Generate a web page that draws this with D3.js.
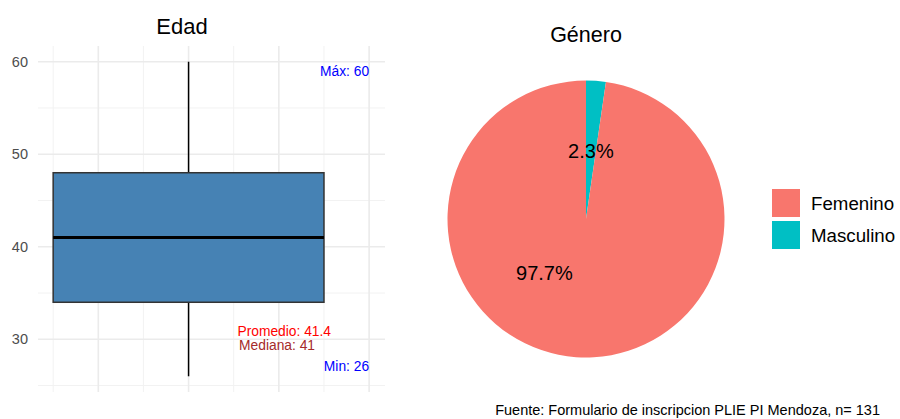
<!DOCTYPE html>
<html>
<head>
<meta charset="utf-8">
<script src="https://cdn.jsdelivr.net/npm/d3@7"></script>
<style>
  body { margin: 0; background: #fff; }
  text { font-family: "Liberation Sans", Arial, sans-serif; }
</style>
</head>
<body>
<div id="chart"></div>
<script>
// edad (boxplot)
var edadStats = { min: 26, q1: 34, mediana: 41, q3: 48, max: 60, promedio: 41.4 };
var yTicks = [30, 40, 50, 60];
var yMinor = [25, 35, 45, 55];
var xMajor = [-0.25, 0, 0.25, 0.5];
var xMinor = [-0.375, -0.125, 0.125, 0.375];

// genero (pie)
var generos = ['Femenino', 'Masculino'];
var porcentajes = [97.7, 2.3];
var colores = ['#F8766D', '#00BFC4'];
// where ggplot placed each label, as a fraction of the turn
var labelTurn = [0.605, 0.0115];

var W = 900, H = 419;

var svg = d3.select('#chart').append('svg')
    .attr('width', W)
    .attr('height', H);

//---------------- boxplot ----------------
var panel = { left: 38, right: 385, top: 46, bottom: 392 };

var y = d3.scaleLinear()
    .domain([24.3, 61.7])
    .range([panel.bottom, panel.top]);

var x = d3.scaleLinear()
    .domain([-0.417, 0.544])
    .range([panel.left, panel.right]);

var box = svg.append('g');

// minor grid
box.selectAll('.ymin')
    .data(yMinor)
    .join('line')
    .attr('x1', panel.left).attr('x2', panel.right)
    .attr('y1', function (d) { return y(d); })
    .attr('y2', function (d) { return y(d); })
    .style('stroke', '#f2f2f2')
    .style('stroke-width', 1);

box.selectAll('.xmin')
    .data(xMinor)
    .join('line')
    .attr('y1', panel.top).attr('y2', panel.bottom)
    .attr('x1', function (d) { return x(d); })
    .attr('x2', function (d) { return x(d); })
    .style('stroke', '#f2f2f2')
    .style('stroke-width', 1);

// major grid
box.selectAll('.ymaj')
    .data(yTicks)
    .join('line')
    .attr('x1', panel.left).attr('x2', panel.right)
    .attr('y1', function (d) { return y(d); })
    .attr('y2', function (d) { return y(d); })
    .style('stroke', '#ebebeb')
    .style('stroke-width', 1.6);

box.selectAll('.xmaj')
    .data(xMajor)
    .join('line')
    .attr('y1', panel.top).attr('y2', panel.bottom)
    .attr('x1', function (d) { return x(d); })
    .attr('x2', function (d) { return x(d); })
    .style('stroke', '#ebebeb')
    .style('stroke-width', 1.6);

// y axis labels
var yAxis = d3.axisLeft(y)
    .tickValues(yTicks)
    .tickSize(0)
    .tickPadding(10);

var ya = box.append('g')
    .attr('transform', 'translate(' + panel.left + ',0)')
    .call(yAxis);
ya.select('.domain').remove();
ya.selectAll('text')
    .style('font-size', '14.5px')
    .style('fill', '#4d4d4d')
    .style('font-family', '"Liberation Sans", Arial, sans-serif');

// whiskers
box.append('line')
    .attr('x1', x(0)).attr('x2', x(0))
    .attr('y1', y(edadStats.max)).attr('y2', y(edadStats.q3))
    .style('stroke', '#000').style('stroke-width', 1.5);
box.append('line')
    .attr('x1', x(0)).attr('x2', x(0))
    .attr('y1', y(edadStats.q1)).attr('y2', y(edadStats.min))
    .style('stroke', '#000').style('stroke-width', 1.5);

// box
box.append('rect')
    .attr('x', x(-0.375))
    .attr('width', x(0.375) - x(-0.375))
    .attr('y', y(edadStats.q3))
    .attr('height', y(edadStats.q1) - y(edadStats.q3))
    .style('fill', '#4682B4')
    .style('stroke', '#333333')
    .style('stroke-width', 1.5);

// median
box.append('line')
    .attr('x1', x(-0.375)).attr('x2', x(0.375))
    .attr('y1', y(edadStats.mediana)).attr('y2', y(edadStats.mediana))
    .style('stroke', '#000').style('stroke-width', 3.2);

// annotations
box.append('text')
    .attr('x', x(0.5)).attr('y', y(edadStats.max))
    .attr('dy', '1.0em')
    .attr('text-anchor', 'end')
    .style('font-size', '13.8px').style('fill', '#0000FF')
    .text('Máx: ' + edadStats.max);

box.append('text')
    .attr('x', x(0.5)).attr('y', y(edadStats.min))
    .attr('dy', '-0.35em')
    .attr('text-anchor', 'end')
    .style('font-size', '13.8px').style('fill', '#0000FF')
    .text('Min: ' + edadStats.min);

box.append('text')
    .attr('x', x(0.265)).attr('y', y(30.9))
    .attr('dy', '0.35em')
    .attr('text-anchor', 'middle')
    .style('font-size', '13.8px').style('fill', '#FF0000')
    .text('Promedio: ' + edadStats.promedio);

box.append('text')
    .attr('x', x(0.245)).attr('y', y(29.4))
    .attr('dy', '0.35em')
    .attr('text-anchor', 'middle')
    .style('font-size', '13.8px').style('fill', '#A52A2A')
    .text('Mediana: ' + edadStats.mediana);

box.append('text')
    .attr('x', 182).attr('y', 34)
    .attr('text-anchor', 'middle')
    .style('font-size', '22px').style('fill', '#000')
    .text('Edad');

//---------------- pie ----------------
var cx = 586, cy = 219, r = 138.5;

var pieData = generos.map(function (g, i) {
    return { genero: g, valor: porcentajes[i], color: colores[i], turn: labelTurn[i] };
});

// ggplot draws Masculino first from 12 o'clock, clockwise
var pie = d3.pie()
    .sort(null)
    .value(function (d) { return d.valor; });

var arc = d3.arc().innerRadius(0).outerRadius(r);

var pg = svg.append('g')
    .attr('transform', 'translate(' + cx + ',' + cy + ')');

pg.selectAll('path')
    .data(pie(pieData.slice().reverse()))
    .join('path')
    .attr('d', arc)
    .style('fill', function (d) { return d.data.color; });

pg.selectAll('.lab')
    .data(pieData)
    .join('text')
    .attr('class', 'lab')
    .attr('x', function (d) { return Math.sin(d.turn * 2 * Math.PI) * r * 0.49; })
    .attr('y', function (d) { return -Math.cos(d.turn * 2 * Math.PI) * r * 0.49; })
    .attr('dy', '0.35em')
    .attr('text-anchor', 'middle')
    .style('font-size', '20px').style('fill', '#000')
    .text(function (d) { return d.valor + '%'; });

svg.append('text')
    .attr('x', cx).attr('y', 42)
    .attr('text-anchor', 'middle')
    .style('font-size', '21.5px').style('fill', '#000')
    .text('Género');

// legend
var legend = svg.selectAll('.legend')
    .data(pieData)
    .join('g')
    .attr('class', 'legend')
    .attr('transform', function (d, i) { return 'translate(772,' + (189 + i * 32) + ')'; });

legend.append('rect')
    .attr('width', 28).attr('height', 28)
    .style('fill', function (d) { return d.color; });

legend.append('text')
    .attr('x', 39).attr('y', 14)
    .attr('dy', '0.35em')
    .style('font-size', '18.7px').style('fill', '#000')
    .text(function (d) { return d.genero; });

// caption
svg.append('text')
    .attr('x', 880).attr('y', 415)
    .attr('text-anchor', 'end')
    .style('font-size', '14.5px').style('fill', '#000')
    .text('Fuente: Formulario de inscripcion PLIE PI Mendoza, n= 131');
</script>
</body>
</html>
